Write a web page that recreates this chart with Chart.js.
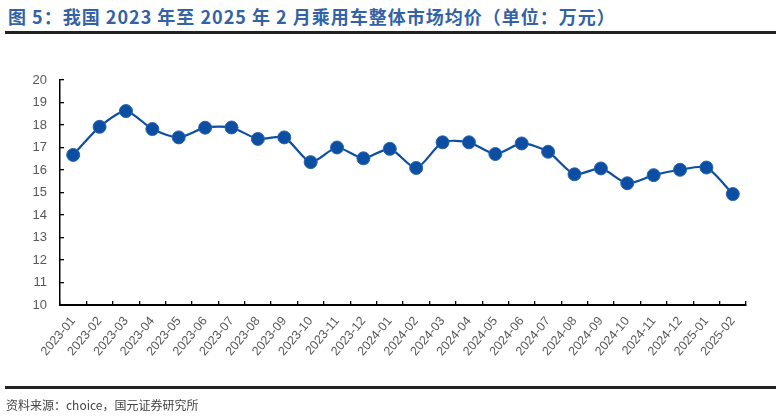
<!DOCTYPE html>
<html>
<head>
<meta charset="utf-8">
<script src="https://cdn.jsdelivr.net/npm/chart.js@4"></script>
<style>
  body { margin: 0; width: 776px; height: 418px; position: relative; background: #fff; overflow: hidden; }
  #title { position: absolute; left: 8px; top: 3px; font: bold 18px "Noto Sans CJK SC", sans-serif; color: #3362a6; letter-spacing: 1px; white-space: nowrap; }
  .rule { position: absolute; left: 5px; right: 0; height: 3px; background: #222; }
  #src { position: absolute; left: 6px; top: 396px; font: 12px "Noto Sans CJK SC", sans-serif; color: #444; white-space: nowrap; }
  #box { position: absolute; left: 0; top: 0; width: 776px; height: 418px; }
</style>
</head>
<body>
<div id="title">图 5：我国 2023 年至 2025 年 2 月乘用车整体市场均价（单位：万元）</div>
<div class="rule" style="top:31px"></div>
<div id="box"><canvas id="myChart"></canvas></div>
<div class="rule" style="top:386px"></div>
<div id="src">资料来源：choice，国元证券研究所</div>
<script>
const months = ['2023-01', '2023-02', '2023-03', '2023-04', '2023-05', '2023-06', '2023-07', '2023-08', '2023-09', '2023-10', '2023-11', '2023-12',
  '2024-01', '2024-02', '2024-03', '2024-04', '2024-05', '2024-06', '2024-07', '2024-08', '2024-09', '2024-10', '2024-11', '2024-12',
  '2025-01', '2025-02'];
const avgPrice = [16.67, 17.92, 18.62, 17.82, 17.45, 17.88, 17.89, 17.38, 17.45, 16.35, 17.0, 16.52,
  16.94, 16.09, 17.23, 17.23, 16.71, 17.18, 16.81, 15.81, 16.07, 15.41, 15.77, 16.01,
  16.11, 14.93];
const yMin = 10;
const yMax = 20;

const ctx = document.getElementById('myChart').getContext('2d');
const myChart = new Chart(ctx, {
  type: 'line',
  data: {
    labels: months,
    datasets: [
      {
        label: '均价',
        data: avgPrice,
        borderColor: '#0b4ea2',
        backgroundColor: '#0b4ea2',
        pointBackgroundColor: '#0b4ea2',
        pointBorderColor: '#2a64ad',
        pointBorderWidth: 1,
        pointRadius: 6.5,
        borderWidth: 2.2,
        tension: 0.25
      }
    ]
  },
  options: {
    responsive: true,
    maintainAspectRatio: false,
    animation: false,
    layout: {
      padding: { top: 80, right: 30, left: 0, bottom: 0 }
    },
    plugins: {
      legend: { display: false },
      title: { display: false },
      tooltip: { enabled: false }
    },
    scales: {
      x: {
        offset: true,
        afterFit: (scale) => { scale.height = 113; },
        border: { color: '#000', width: 2 },
        grid: {
          offset: true,
          drawOnChartArea: false,
          drawTicks: true,
          tickLength: -4,
          color: '#000',
          lineWidth: 1.3
        },
        ticks: {
          autoSkip: false,
          minRotation: 50,
          maxRotation: 50,
          padding: 13,
          color: '#595959',
          font: { family: 'Liberation Sans', size: 12.5 }
        }
      },
      y: {
        min: yMin,
        max: yMax,
        afterFit: (scale) => { scale.width = 60; },
        border: { color: '#000', width: 1.5 },
        grid: {
          drawOnChartArea: false,
          drawTicks: true,
          tickLength: -4,
          color: '#000',
          lineWidth: 1.3
        },
        ticks: {
          stepSize: 1,
          padding: 17,
          color: '#595959',
          font: { family: 'Liberation Sans', size: 13 }
        }
      }
    }
  }
});
</script>
</body>
</html>
